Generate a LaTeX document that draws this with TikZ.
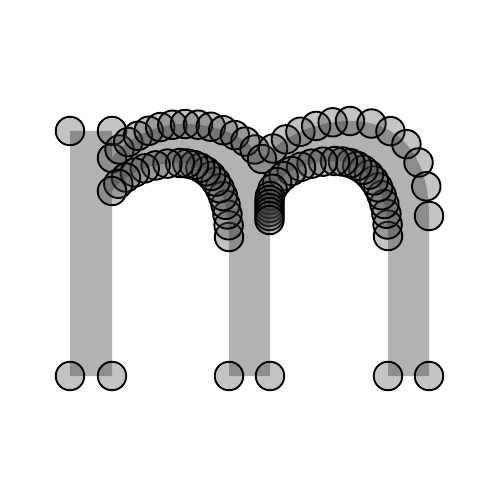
\documentclass[tikz,border=0pt]{standalone}
\begin{document}
\begin{tikzpicture}[x=1pt,y=-1pt,
  pt/.style={circle,draw=black,line width=1.9pt,fill=black!78,fill opacity=0.3,inner sep=0pt,minimum size=28.5pt},
  glyph/.style={fill=black!30}]
\useasboundingbox (0,-1) rectangle (500,499);
% glyph outline
\path[glyph] (70,375) -- (70,130) -- (112,130) -- (112,157)
  .. controls (128,136) and (155,123) .. (185,123)
  .. controls (215,123) and (247,134) .. (262,158)
  .. controls (282,136) and (315,120) .. (350,120)
  .. controls (395,120) and (429,150) .. (429,215)
  -- (429,375) -- (388,375) -- (388,235)
  .. controls (388,187) and (368,160) .. (335,160)
  .. controls (302,160) and (274,175) .. (270,195)
  -- (270,375) -- (229,375) -- (229,236)
  .. controls (229,187) and (210,162) .. (180,162)
  .. controls (150,162) and (125,172) .. (112,190)
  -- (112,375) -- cycle;
% corner points
\foreach \p/\q in {70/375,70/130,112/130,112/157} {\node[pt] at (\p,\q) {};}
% outer arch 1
\path (112,157) .. controls (128,136) and (155,123) .. (185,123)
  foreach \t in {0.143,0.286,0.429,0.571,0.714,0.857,1} {node[pt,pos=\t]{}};
\path (185,123) .. controls (215,123) and (247,134) .. (262,158)
  foreach \t in {0.143,0.286,0.429,0.571,0.714,0.857,1} {node[pt,pos=\t]{}};
% outer arch 2
\path (262,158) .. controls (282,136) and (315,120) .. (350,120)
  foreach \t in {0.167,0.333,0.5,0.667,0.833,1} {node[pt,pos=\t]{}};
\path (350,120) .. controls (395,120) and (429,150) .. (429,215)
  foreach \t in {0.167,0.333,0.5,0.667,0.833,1} {node[pt,pos=\t]{}};
\foreach \p/\q in {429/375,388/375} {\node[pt] at (\p,\q) {};}
% inner arch 2
\path (388,235) .. controls (388,187) and (368,160) .. (335,160)
  foreach \t in {0,0.083,0.167,0.25,0.333,0.417,0.5,0.583,0.667,0.75,0.833,0.917,1} {node[pt,pos=\t]{}};
\path (335,160) .. controls (302,160) and (274,175) .. (270,195)
  foreach \t in {0.125,0.25,0.375,0.5,0.625,0.75,0.875,1} {node[pt,pos=\t]{}};
\foreach \q in {199,203,207,211,215,219} {\node[pt] at (269.5,\q) {};}
\foreach \p/\q in {270/375,229/375} {\node[pt] at (\p,\q) {};}
% inner arch 1
\path (229,236) .. controls (229,187) and (210,162) .. (180,162)
  foreach \t in {0,0.083,0.167,0.25,0.333,0.417,0.5,0.583,0.667,0.75,0.833,0.917,1} {node[pt,pos=\t]{}};
\path (180,162) .. controls (150,162) and (125,172) .. (112,190)
  foreach \t in {0.143,0.286,0.429,0.571,0.714,0.857,1} {node[pt,pos=\t]{}};
\node[pt] at (112,375) {};
\end{tikzpicture}
\end{document}
